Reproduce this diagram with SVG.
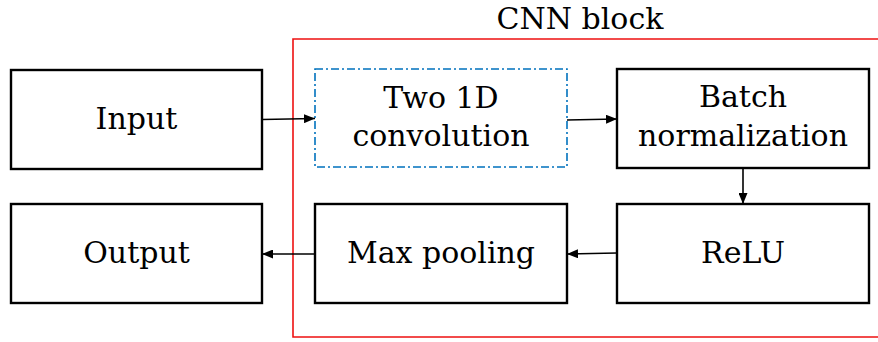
<svg xmlns="http://www.w3.org/2000/svg" width="878" height="342" viewBox="0 0 878 342">
  <style>
    .box { fill: #ffffff; stroke: #000000; stroke-width: 2.4; }
    .dash { fill: #ffffff; stroke: #0072bd; stroke-width: 1.6; stroke-dasharray: 8 3 2 3; }
    .lbl { font-family: 'DejaVu Serif', serif; font-size: 30px; fill: #000000; text-anchor: middle; }
    .title { font-size: 30px; }
    .wire { fill: none; stroke: #000000; stroke-width: 1.6; marker-end: url(#head); }
    .frame { fill: none; stroke: #ee1111; stroke-width: 1.6; }
  </style>
  <defs>
    <marker id="head" viewBox="0 0 11 9" refX="11" refY="4.5" markerWidth="11" markerHeight="9" markerUnits="userSpaceOnUse" orient="auto">
      <path d="M0,0 L11,4.5 L0,9 Z" fill="#000000"/>
    </marker>
  </defs>

  <!-- CNN block frame, open on the right -->
  <g id="cnn-block">
    <path class="frame" d="M880,39 H293 V337 H880"/>
    <text class="lbl title" x="580" y="29">CNN block</text>
  </g>

  <g id="input">
    <rect class="box" x="11" y="70" width="251" height="99"/>
    <text class="lbl" x="136.5" y="129">Input</text>
  </g>

  <g id="conv">
    <rect class="dash" x="315" y="69" width="252" height="98"/>
    <text class="lbl" x="441" y="108">Two 1D</text>
    <text class="lbl" x="441" y="146">convolution</text>
  </g>

  <g id="batchnorm">
    <rect class="box" x="617" y="69" width="252" height="99"/>
    <text class="lbl" x="743" y="107">Batch</text>
    <text class="lbl" x="743" y="146">normalization</text>
  </g>

  <g id="relu">
    <rect class="box" x="617" y="204" width="252" height="99"/>
    <text class="lbl" x="743" y="263">ReLU</text>
  </g>

  <g id="maxpool">
    <rect class="box" x="315" y="204" width="252" height="99"/>
    <text class="lbl" x="441" y="263">Max pooling</text>
  </g>

  <g id="output">
    <rect class="box" x="11" y="204" width="251" height="99"/>
    <text class="lbl" x="136.5" y="263">Output</text>
  </g>

  <g id="connectors">
    <path class="wire" d="M262,119.5 L315,118.5"/>
    <path class="wire" d="M567,120 L617,119"/>
    <path class="wire" d="M743,168 L743,204"/>
    <path class="wire" d="M617,253 L567,254"/>
    <path class="wire" d="M315,254 L262,254"/>
  </g>
</svg>
